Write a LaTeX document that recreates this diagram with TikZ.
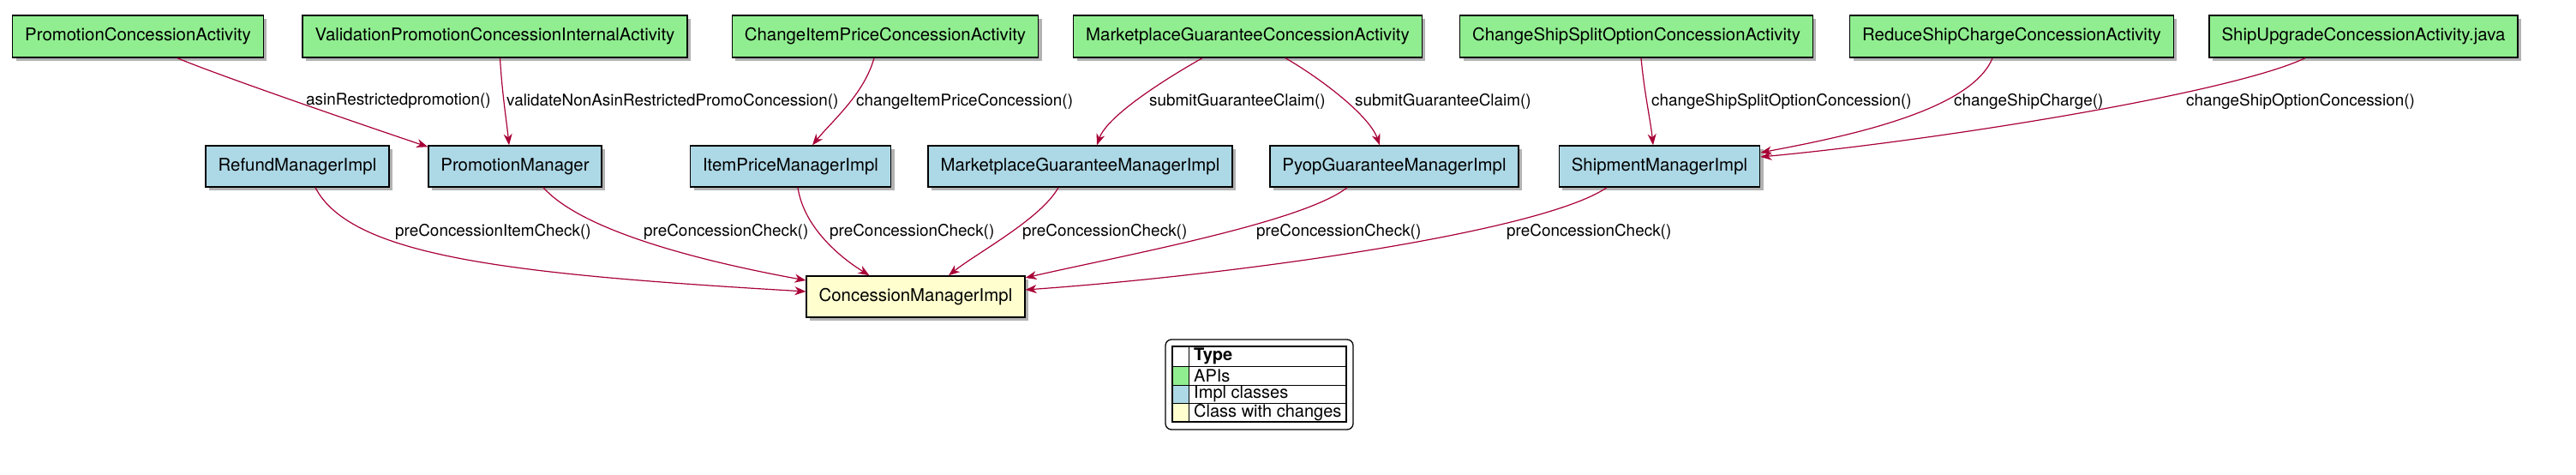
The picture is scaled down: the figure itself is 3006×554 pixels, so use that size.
\documentclass[tikz,border=0pt]{standalone}
\usepackage{fontspec}
\setmainfont{TeX Gyre Heros}
\usetikzlibrary{shadows,arrows.meta}
\definecolor{edgec}{HTML}{A80036}
\definecolor{apig}{HTML}{90EE90}
\definecolor{implb}{HTML}{ADD8E6}
\definecolor{chgy}{HTML}{FEFECE}
\tikzset{
 box/.style={draw=black, line width=1.5pt, minimum height=48pt, inner xsep=14.5pt, inner ysep=0pt,
   font=\fontsize{20.4pt}{24pt}\selectfont,
   drop shadow={shadow xshift=4pt, shadow yshift=-4pt, opacity=0.3, fill=black}},
 api/.style={box, fill=apig, minimum height=49pt},
 impl/.style={box, fill=implb},
 chg/.style={box, fill=chgy},
 conn/.style={draw=edgec, line width=1.2pt, -{Stealth[length=13pt,width=10pt,inset=4pt]}},
 lbl/.style={anchor=west, inner sep=0pt, font=\fontsize{18.9pt}{22pt}\selectfont},
 legtxt/.style={anchor=west, inner sep=0pt, font=\fontsize{20pt}{22pt}\selectfont},
}
\begin{document}
\begin{tikzpicture}[x=1pt,y=-1pt]
\useasboundingbox (0,0) rectangle (3006,554);
% top row
\node[api] (pca)  at (161,42.5)   {PromotionConcessionActivity};
\node[api] (vp)   at (577.5,42.5) {ValidationPromotionConcessionInternalActivity};
\node[api] (cip)  at (1033,42.5)  {ChangeItemPriceConcessionActivity};
\node[api] (mgca) at (1456,42.5)  {MarketplaceGuaranteeConcessionActivity};
\node[api] (css)  at (1909.5,42.5){ChangeShipSplitOptionConcessionActivity};
\node[api] (rsc)  at (2347.5,42.5){ReduceShipChargeConcessionActivity};
\node[api] (suc)  at (2758,42.5)  {ShipUpgradeConcessionActivity.java};
% middle row
\node[impl] (ref)  at (347,194)    {RefundManagerImpl};
\node[impl] (pm)   at (601,194)    {PromotionManager};
\node[impl] (ipm)  at (922.5,194)  {ItemPriceManagerImpl};
\node[impl] (mgmi) at (1260.5,194) {MarketplaceGuaranteeManagerImpl};
\node[impl] (pyop) at (1627,194)   {PyopGuaranteeManagerImpl};
\node[impl] (ship) at (1936.5,194) {ShipmentManagerImpl};
% bottom
\node[chg] (cmi) at (1068.5,346) {ConcessionManagerImpl};

% upper connectors
\draw[conn] ([xshift=46pt]pca.south) .. controls (255,88) and (430,148) .. ([yshift=-2pt]pm.north west);
\draw[conn] ([xshift=6pt]vp.south) .. controls (586,110) and (591,140) .. ([xshift=-7pt]pm.north);
\draw[conn] ([xshift=-13pt]cip.south) .. controls (1008,110) and (972,140) .. ([xshift=25.5pt]ipm.north);
\draw[conn] ([xshift=-53pt]mgca.south) .. controls (1360,92) and (1292,135) .. ([xshift=19.5pt]mgmi.north);
\draw[conn] ([xshift=44pt]mgca.south) .. controls (1542,92) and (1598,135) .. ([xshift=-17pt]pyop.north);
\draw[conn] ([xshift=5.5pt]css.south) .. controls (1919,110) and (1926,140) .. ([xshift=-7.5pt]ship.north);
\draw[conn] ([xshift=-22.5pt]rsc.south) .. controls (2300,130) and (2150,160) .. ([yshift=16pt]ship.east);
\draw[conn] ([xshift=-68pt]suc.south) .. controls (2600,110) and (2250,165) .. ([yshift=11pt]ship.east);
% lower connectors
\draw[conn] ([xshift=21pt]ref.south) .. controls (410,300) and (600,320) .. ([yshift=6pt]cmi.west);
\draw[conn] ([xshift=33pt]pm.south) .. controls (680,270) and (820,305) .. ([yshift=19pt]cmi.west);
\draw[conn] ([xshift=8.5pt]ipm.south) .. controls (938,265) and (980,300) .. ([xshift=-54pt]cmi.north);
\draw[conn] ([xshift=-25.5pt]mgmi.south) .. controls (1215,255) and (1140,295) .. ([xshift=38.5pt]cmi.north);
\draw[conn] ([xshift=-55pt]pyop.south) .. controls (1520,260) and (1300,300) .. ([yshift=22pt]cmi.east);
\draw[conn] ([xshift=-61.5pt]ship.south) .. controls (1800,270) and (1450,320) .. ([yshift=8pt]cmi.east);

% labels
\node[lbl] (l1) at (357,118)  {asinRestrictedpromotion()};
\node[lbl] (l2) at (591,118)  {validateNonAsinRestrictedPromoConcession()};
\node[lbl] (l3) at (999,118)  {changeItemPriceConcession()};
\node[lbl] (l4) at (1341,118) {submitGuaranteeClaim()};
\node[lbl] (l5) at (1581,118) {submitGuaranteeClaim()};
\node[lbl] (l6) at (1927,118) {changeShipSplitOptionConcession()};
\node[lbl] (l7) at (2280,118) {changeShipCharge()};
\node[lbl] (l8) at (2551,118) {changeShipOptionConcession()};
\node[lbl] (m1) at (461,270)  {preConcessionItemCheck()};
\node[lbl] (m2) at (751,270)  {preConcessionCheck()};
\node[lbl] (m3) at (968,270)  {preConcessionCheck()};
\node[lbl] (m4) at (1193,270) {preConcessionCheck()};
\node[lbl] (m5) at (1466,270) {preConcessionCheck()};
\node[lbl] (m6) at (1758,270) {preConcessionCheck()};

% legend
\draw[line width=1.3pt, fill=white, rounded corners=7pt] (1360,396) rectangle (1579,501);
\fill[apig]  (1368,427) rectangle (1387,449);
\fill[implb] (1368,449) rectangle (1387,470);
\fill[chgy]  (1368,470) rectangle (1387,492);
\draw[line width=1.1pt] (1368,404) rectangle (1571,492);
\draw[line width=1pt] (1387,404) -- (1387,492);
\draw[line width=1pt] (1368,427) -- (1571,427);
\draw[line width=1pt] (1368,449) -- (1571,449);
\draw[line width=1pt] (1368,470) -- (1571,470);
\node[legtxt, font=\fontsize{20pt}{22pt}\selectfont\bfseries] (lgt) at (1393,415.5) {Type};
\node[legtxt] (lga) at (1393,438)   {APIs};
\node[legtxt] (lgi) at (1393,459.5) {Impl classes};
\node[legtxt] (lgc) at (1393,481)   {Class with changes};
\end{tikzpicture}
\end{document}
